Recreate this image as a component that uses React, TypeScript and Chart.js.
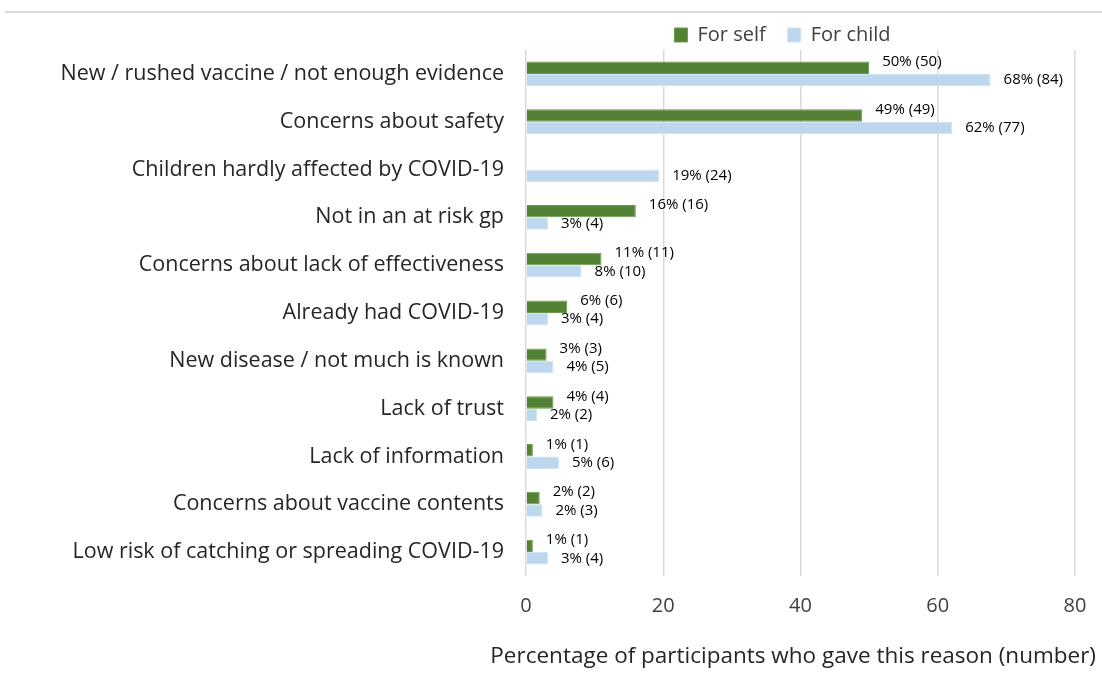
import React, { useEffect, useRef } from "react";
import { Chart, registerables } from "chart.js";

Chart.register(...registerables);

const categories = [
  "New / rushed vaccine / not enough evidence",
  "Concerns about safety",
  "Children hardly affected by COVID-19",
  "Not in an at risk gp",
  "Concerns about lack of effectiveness",
  "Already had COVID-19",
  "New disease / not much is known",
  "Lack of trust",
  "Lack of information",
  "Concerns about vaccine contents",
  "Low risk of catching or spreading COVID-19",
];
const seriesNames = ["For self", "For child"];
const selfPct = [50, 49, 0, 16, 11, 6, 3, 4, 1, 2, 1];
const childPct = [67.7, 62.1, 19.4, 3.2, 8.1, 3.2, 4.0, 1.6, 4.8, 2.4, 3.2];
const selfLabels = ["50% (50)", "49% (49)", "", "16% (16)", "11% (11)", "6% (6)", "3% (3)", "4% (4)", "1% (1)", "2% (2)", "1% (1)"];
const childLabels = ["68% (84)", "62% (77)", "19% (24)", "3% (4)", "8% (10)", "3% (4)", "4% (5)", "2% (2)", "5% (6)", "2% (3)", "3% (4)"];
const xMin = 0;
const xMax = 80;
const xStep = 20;
const axisTitle = "Percentage of participants who gave this reason (number)";

const FONT = "'Open Sans', 'Liberation Sans', sans-serif";

const labelPlugin = {
  id: "barLabels",
  afterDatasetsDraw(chart: any) {
    const ctx = chart.ctx;
    const all = [selfLabels, childLabels];
    ctx.save();
    ctx.font = `15px ${FONT}`;
    ctx.fillStyle = "#000000";
    ctx.textAlign = "left";
    ctx.textBaseline = "middle";
    chart.data.datasets.forEach((ds: any, di: number) => {
      const meta = chart.getDatasetMeta(di);
      meta.data.forEach((el: any, i: number) => {
        const txt = all[di][i];
        if (!txt) return;
        const dy = di === 0 ? -6 : 0;
        ctx.fillText(txt, el.x + 13, el.y + dy);
      });
    });
    ctx.restore();
  },
};

const framePlugin = {
  id: "frameLine",
  afterLayout(chart: any) {
    if (chart.legend) {
      chart.legend.left -= 18;
      chart.legend.right -= 18;
    }
    if (chart.titleBlock) {
      chart.titleBlock.left += 21;
      chart.titleBlock.right += 21;
    }
  },
  beforeDraw(chart: any) {
    const ctx = chart.ctx;
    ctx.save();
    ctx.fillStyle = "#ffffff";
    ctx.fillRect(0, 0, chart.width, chart.height);
    ctx.strokeStyle = "#d9d9d9";
    ctx.lineWidth = 2;
    ctx.beginPath();
    ctx.moveTo(5, 12);
    ctx.lineTo(chart.width, 12);
    ctx.stroke();
    ctx.restore();
  },
};

export default function App() {
  const ref = useRef<HTMLCanvasElement | null>(null);
  useEffect(() => {
    document.body.style.margin = "0";
    if (!ref.current) return;
    const chart = new Chart(ref.current, {
      type: "bar",
      data: {
        labels: categories,
        datasets: [
          {
            label: seriesNames[0],
            data: selfPct,
            backgroundColor: "#548235",
            borderColor: "#6a9a4a",
            borderWidth: 1,
            categoryPercentage: 0.52,
            barPercentage: 1.0,
          },
          {
            label: seriesNames[1],
            data: childPct,
            backgroundColor: "#bdd7ee",
            borderColor: "#cfe2f3",
            borderWidth: 1,
            categoryPercentage: 0.52,
            barPercentage: 1.0,
          },
        ],
      },
      options: {
        indexAxis: "y",
        animation: false,
        responsive: false,
        maintainAspectRatio: false,
        layout: { padding: { top: 3, right: 27, bottom: 18, left: 0 } },
        plugins: {
          legend: {
            display: true,
            position: "top",
            fullSize: false,
            maxHeight: 47,
            labels: {
              font: { family: FONT, size: 20 },
              color: "#404040",
              boxWidth: 13,
              boxHeight: 14,
              padding: 22,
            },
          },
          title: {
            display: true,
            position: "bottom",
            align: "end",
            text: axisTitle,
            font: { family: FONT, size: 22.5, weight: "normal" },
            color: "#262626",
            padding: { top: 8, bottom: 0 },
          },
          tooltip: { enabled: false },
        },
        scales: {
          x: {
            min: xMin,
            max: xMax,
            ticks: {
              stepSize: xStep,
              font: { family: FONT, size: 20 },
              color: "#404040",
              padding: 18,
            },
            grid: { color: "#d9d9d9", lineWidth: 1.5, drawTicks: false },
            border: { display: false },
            afterFit: (scale: any) => {
              scale.height = 59;
              scale.paddingRight = 0;
              scale.paddingLeft = 0;
            },
          },
          y: {
            ticks: {
              font: { family: FONT, size: 21.5 },
              color: "#262626",
              padding: 22,
              autoSkip: false,
            },
            grid: { display: false, drawTicks: false },
            border: { display: false },
            afterFit: (scale: any) => {
              scale.width = 526;
            },
          },
        },
      },
      plugins: [framePlugin, labelPlugin],
    });
    return () => chart.destroy();
  }, []);
  return <canvas ref={ref} width={1102} height={688} style={{ display: "block" }} />;
}
